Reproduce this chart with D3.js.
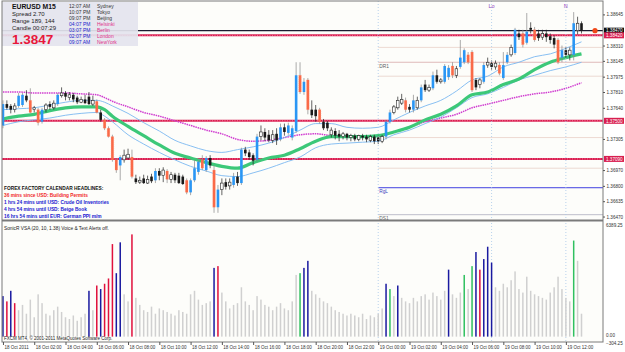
<!DOCTYPE html>
<html>
<head>
<meta charset="utf-8">
<script src="https://cdn.jsdelivr.net/npm/d3@7"></script>
<style>
body { margin: 0; background: #ffffff; }
text { font-family: "Liberation Sans", Arial, sans-serif; }
</style>
</head>
<body>
<div id="chart"></div>
<script>
// EURUSD M15 candles, one row per bar: [open, high, low, close]
const candles = [
  [1.3745,1.3772,1.3742,1.3768],[1.3768,1.3772,1.3762,1.3764],[1.3766,1.3768,1.3758,1.3762],[1.3762,1.3769,1.3759,1.3766],
  [1.3766,1.3780,1.3764,1.3777],[1.3767,1.3780,1.3765,1.3778],[1.3777,1.3783,1.3770,1.3772],[1.3772,1.3785,1.3758,1.3759],
  [1.3762,1.3766,1.3759,1.3764],[1.3762,1.3764,1.3745,1.3748],[1.3749,1.3764,1.3747,1.3762],[1.3762,1.3769,1.3759,1.3767],
  [1.3768,1.3771,1.3762,1.3765],[1.3764,1.3772,1.3762,1.3769],[1.3768,1.3780,1.3766,1.3778],[1.3777,1.3786,1.3775,1.3780],
  [1.3780,1.3782,1.3772,1.3776],[1.3775,1.3781,1.3772,1.3778],[1.3778,1.3780,1.3770,1.3773],[1.3775,1.3777,1.3768,1.3770],
  [1.3770,1.3776,1.3769,1.3773],[1.3773,1.3778,1.3768,1.3769],[1.3776,1.3781,1.3767,1.3768],[1.3768,1.3777,1.3766,1.3772],
  [1.3771,1.3773,1.3758,1.3759],[1.3759,1.3762,1.3749,1.3751],[1.3751,1.3753,1.3740,1.3742],[1.3742,1.3744,1.3732,1.3733],
  [1.3733,1.3735,1.3706,1.3708],[1.3708,1.3710,1.3694,1.3697],[1.3702,1.3713,1.3686,1.3711],[1.3708,1.3719,1.3705,1.3713],
  [1.3710,1.3720,1.3708,1.3714],[1.3711,1.3719,1.3688,1.3690],[1.3688,1.3692,1.3682,1.3684],[1.3684,1.3690,1.3682,1.3686],
  [1.3688,1.3692,1.3682,1.3683],[1.3683,1.3691,1.3682,1.3687],[1.3690,1.3693,1.3683,1.3685],[1.3686,1.3699,1.3683,1.3696],
  [1.3696,1.3699,1.3686,1.3691],[1.3691,1.3700,1.3684,1.3697],[1.3696,1.3698,1.3683,1.3687],[1.3687,1.3695,1.3683,1.3692],
  [1.3692,1.3694,1.3683,1.3686],[1.3691,1.3694,1.3682,1.3683],[1.3690,1.3692,1.3681,1.3682],[1.3686,1.3688,1.3671,1.3673],
  [1.3673,1.3688,1.3670,1.3686],[1.3686,1.3708,1.3684,1.3699],[1.3695,1.3710,1.3692,1.3706],[1.3708,1.3713,1.3697,1.3699],
  [1.3697,1.3712,1.3695,1.3710],[1.3710,1.3713,1.3699,1.3702],[1.3697,1.3702,1.3651,1.3657],[1.3657,1.3681,1.3651,1.3676],
  [1.3676,1.3688,1.3670,1.3683],[1.3684,1.3688,1.3676,1.3679],[1.3680,1.3688,1.3676,1.3684],[1.3681,1.3694,1.3678,1.3690],
  [1.3690,1.3695,1.3680,1.3683],[1.3683,1.3721,1.3681,1.3719],[1.3719,1.3722,1.3712,1.3715],[1.3716,1.3719,1.3708,1.3711],
  [1.3713,1.3715,1.3702,1.3707],[1.3708,1.3736,1.3706,1.3733],[1.3733,1.3745,1.3729,1.3738],[1.3738,1.3742,1.3728,1.3732],
  [1.3735,1.3740,1.3727,1.3729],[1.3729,1.3740,1.3726,1.3735],[1.3736,1.3742,1.3724,1.3729],[1.3730,1.3747,1.3728,1.3743],
  [1.3743,1.3747,1.3734,1.3738],[1.3737,1.3748,1.3735,1.3745],[1.3732,1.3745,1.3729,1.3742],[1.3739,1.3813,1.3737,1.3799],
  [1.3799,1.3813,1.3779,1.3781],[1.3781,1.3796,1.3778,1.3792],[1.3794,1.3796,1.3757,1.3762],[1.3762,1.3772,1.3753,1.3756],
  [1.3762,1.3767,1.3749,1.3755],[1.3762,1.3764,1.3747,1.3749],[1.3749,1.3752,1.3740,1.3742],[1.3748,1.3750,1.3739,1.3742],
  [1.3735,1.3743,1.3732,1.3740],[1.3739,1.3742,1.3730,1.3734],[1.3736,1.3740,1.3728,1.3733],[1.3733,1.3738,1.3730,1.3736],
  [1.3736,1.3737,1.3729,1.3732],[1.3732,1.3736,1.3728,1.3734],[1.3734,1.3736,1.3728,1.3730],[1.3730,1.3735,1.3728,1.3734],
  [1.3734,1.3736,1.3729,1.3732],[1.3733,1.3735,1.3727,1.3730],[1.3729,1.3735,1.3727,1.3733],[1.3733,1.3735,1.3725,1.3728],
  [1.3732,1.3734,1.3725,1.3728],[1.3728,1.3735,1.3726,1.3733],[1.3733,1.3751,1.3730,1.3749],[1.3749,1.3762,1.3747,1.3759],
  [1.3759,1.3767,1.3757,1.3765],[1.3764,1.3776,1.3762,1.3772],[1.3769,1.3779,1.3767,1.3773],[1.3772,1.3775,1.3759,1.3762],
  [1.3765,1.3768,1.3759,1.3762],[1.3762,1.3778,1.3759,1.3772],[1.3764,1.3776,1.3762,1.3772],[1.3772,1.3789,1.3770,1.3786],
  [1.3789,1.3794,1.3781,1.3783],[1.3783,1.3789,1.3781,1.3786],[1.3785,1.3803,1.3783,1.3799],[1.3799,1.3805,1.3790,1.3792],
  [1.3792,1.3796,1.3790,1.3794],[1.3792,1.3811,1.3790,1.3809],[1.3797,1.3810,1.3794,1.3807],[1.3809,1.3813,1.3796,1.3799],
  [1.3799,1.3809,1.3796,1.3806],[1.3808,1.3837,1.3806,1.3818],[1.3813,1.3828,1.3811,1.3826],[1.3821,1.3824,1.3811,1.3813],
  [1.3824,1.3826,1.3781,1.3783],[1.3794,1.3796,1.3783,1.3786],[1.3789,1.3796,1.3785,1.3794],[1.3792,1.3813,1.3790,1.3810],
  [1.3810,1.3818,1.3807,1.3813],[1.3812,1.3815,1.3805,1.3808],[1.3808,1.3815,1.3805,1.3812],[1.3810,1.3813,1.3799,1.3801],
  [1.3796,1.3824,1.3794,1.3810],[1.3813,1.3824,1.3811,1.3821],[1.3821,1.3832,1.3819,1.3829],[1.3823,1.3850,1.3821,1.3848],
  [1.3844,1.3848,1.3837,1.3840],[1.3844,1.3848,1.3829,1.3832],[1.3834,1.3866,1.3832,1.3846],[1.3850,1.3856,1.3844,1.3848],
  [1.3848,1.3851,1.3835,1.3837],[1.3844,1.3848,1.3836,1.3839],[1.3840,1.3848,1.3837,1.3844],[1.3844,1.3848,1.3835,1.3840],
  [1.3841,1.3844,1.3833,1.3837],[1.3839,1.3842,1.3828,1.3832],[1.3837,1.3839,1.3811,1.3813],[1.3818,1.3831,1.3813,1.3826],
  [1.3826,1.3829,1.3818,1.3821],[1.3821,1.3829,1.3815,1.3826],[1.3821,1.3867,1.3815,1.3855],[1.3847,1.3862,1.3843,1.3855],
  [1.3855,1.3857,1.3844,1.3847]
];

// moving averages read at these bars
const maBars = [0,4,8,12,16,20,24,26,28,32,36,40,44,48,52,56,60,64,68,72,76,80,84,88,92,96,100,104,108,112,116,120,124,128,132,136,140,144,148];
const dragonMid = [1.3752,1.3755,1.3757,1.3761,1.3764,1.3765,1.3765,1.3762,1.3755,1.3744,1.3734,1.3724,1.3715,1.3710,1.3705,1.3701,1.3699,1.3705,1.3710,1.3713,1.3720,1.3728,1.3733,1.3733,1.3733,1.3734,1.3738,1.3743,1.3751,1.3757,1.3766,1.3778,1.3781,1.3789,1.3795,1.3805,1.3813,1.3818,1.3822];
const dragonHigh = [1.3762,1.3763,1.3764,1.3767,1.3770,1.3772,1.3772,1.3770,1.3766,1.3758,1.3748,1.3739,1.3729,1.3723,1.3718,1.3716,1.3719,1.3722,1.3726,1.3732,1.3740,1.3747,1.3747,1.3743,1.3742,1.3743,1.3751,1.3759,1.3766,1.3772,1.3782,1.3794,1.3798,1.3808,1.3813,1.3819,1.3822,1.3828,1.3835];
const dragonLow = [1.3745,1.3749,1.3751,1.3753,1.3756,1.3758,1.3759,1.3755,1.3749,1.3735,1.3725,1.3716,1.3708,1.3701,1.3696,1.3691,1.3690,1.3694,1.3699,1.3705,1.3711,1.3721,1.3725,1.3726,1.3727,1.3728,1.3735,1.3740,1.3747,1.3754,1.3764,1.3775,1.3779,1.3786,1.3794,1.3799,1.3804,1.3808,1.3813];
const ema89 = [1.3781,1.3781,1.3780,1.3780,1.3780,1.3779,1.3778,1.3775,1.3771,1.3765,1.3759,1.3755,1.3750,1.3745,1.3740,1.3736,1.3730,1.3728,1.3729,1.3732,1.3735,1.3736,1.3734,1.3733,1.3733,1.3734,1.3738,1.3743,1.3749,1.3753,1.3757,1.3764,1.3768,1.3772,1.3776,1.3779,1.3781,1.3785,1.3791];

// VSA volume per bar
const volumes = [
  2300,2000,2600,1900,1500,1800,1300,2100,1100,2400,
  1900,1300,1200,1500,1700,1400,1100,1000,1200,900,
  1100,1300,2600,1500,2900,2700,3000,3300,5250,3600,
  5350,2400,2000,5800,2200,1800,1500,1400,1700,1300,
  1600,1500,1400,1300,1200,1500,1400,1300,2400,2600,
  2100,1800,1900,2000,3900,4000,2500,2000,1600,1800,
  1900,2800,2000,1800,1500,2300,2100,1800,1700,1500,
  1700,1900,1600,1500,2000,3500,3600,3900,4300,2600,
  2400,2200,2000,1900,1700,1500,1400,1300,1200,1300,
  1200,1100,1300,1000,1200,1100,1300,1600,3000,2700,
  2300,2900,2200,2000,1900,2200,2000,2300,2400,2100,
  2500,2300,2100,2600,3800,2400,2200,2500,3500,2700,
  4000,4800,3800,4400,5100,4200,2800,2600,3000,2800,
  3200,3700,2700,2500,3400,2600,2400,2300,2200,2100,
  2500,2800,3400,2700,2200,2000,5450,4300,1300
];
const volBlue = [0,2,22,25,29,30,54,77,78,98,101,114,121,123,124,125];
const volRed = [1,3,24,26,27,28,33,55,122];
const volGreen = [76,99,118,120,146];

const priceTicks = [1.38645,1.38480,1.38310,1.38145,1.37975,1.37810,1.37640,1.37470,1.37305,1.37135,1.36970,1.36800,1.36635,1.36470];
const timeLabels = ["18 Oct 2011","18 Oct 02:00","18 Oct 04:00","18 Oct 06:00","18 Oct 08:00","18 Oct 10:00","18 Oct 12:00","18 Oct 14:00","18 Oct 16:00","18 Oct 18:00","18 Oct 20:00","18 Oct 22:00","19 Oct 00:00","19 Oct 02:00","19 Oct 04:00","19 Oct 06:00","19 Oct 08:00","19 Oct 10:00","19 Oct 12:00"];
const timeBars = d3.range(0, 145, 8);

const currentPrice = 1.3847;
const redLevels = [1.3842, 1.3750, 1.3709];
const pivotNames = ["", "DR1", "", "", "", "RgL", "DS1"];
const pivotPrices = [1.3829, 1.3813, 1.3798, 1.3732, 1.3699, 1.3678, 1.3649];
const daySeparator = 96;
const sessionBars = [125, 144];
const sessionNames = ["Lo", "N"];

const clockTimes = ["12:07 AM","10:07 PM","09:07 PM","04:07 PM","03:07 PM","02:07 PM","09:07 AM"];
const clockCities = ["Sydney","Tokyo","Beijing","Helsinki","Berlin","London","NewYork"];
const infoLines = ["Spread  2.70", "Range  189, 144", "Candle  00:07:29"];
const headlines = ["36 mins since USD: Building Permits","1 hrs 24 mins until USD: Crude Oil Inventories","4 hrs 54 mins until USD: Beige Book","16 hrs 54 mins until EUR: German PPI m/m"];

const W = 625, H = 352;
const svg = d3.select('#chart').append('svg').attr('width', W).attr('height', H);

const x = d3.scaleLinear().domain([-0.5, 153.5]).range([1, 603]);
const y = d3.scaleLinear().domain([1.36465, 1.3880]).range([217, 0]);
const yv = d3.scaleLinear().domain([-304.25, 6389.25]).range([342, 224]);

// panels
svg.append('rect').attr('x', 2).attr('y', 1).attr('width', 601).attr('height', 219).attr('fill', '#fdfdfa');
svg.append('rect').attr('x', 2).attr('y', 222).attr('width', 601).attr('height', 120).attr('fill', '#fdfdfa');
svg.append('clipPath').attr('id', 'mainClip').append('rect').attr('x', 2).attr('y', 1).attr('width', 601).attr('height', 219);
const main = svg.append('g').attr('clip-path', 'url(#mainClip)');

// vertical separators
[daySeparator].concat(sessionBars).forEach(b => {
  svg.append('line').attr('x1', x(b)).attr('x2', x(b)).attr('y1', 1).attr('y2', 342)
    .attr('stroke', '#a8c8e8').attr('stroke-width', 0.8).attr('stroke-dasharray', '1,2');
});
sessionBars.forEach((b, i) => {
  svg.append('text').attr('x', x(b)).attr('y', 8).attr('text-anchor', 'middle')
    .attr('font-size', 5.5).attr('fill', '#9040c0').text(sessionNames[i]);
});

// pivot levels (start at the day separator)
const pivotColor = n => n === 'RgL' ? '#4040e0' : n === 'DS1' ? '#b0b0c0' : n === 'DR1' ? '#d8a8a8' : '#e8d0c8';
pivotPrices.forEach((p, i) => {
  main.append('line').attr('x1', x(daySeparator)).attr('x2', 603).attr('y1', y(p)).attr('y2', y(p))
    .attr('stroke', pivotColor(pivotNames[i])).attr('stroke-width', pivotNames[i] === 'RgL' ? 1 : 0.8);
  if (pivotNames[i]) {
    main.append('text').attr('x', x(daySeparator) + 1).attr('y', y(p) + 5.5).attr('font-size', 4.8)
      .attr('fill', pivotNames[i] === 'RgL' ? '#4040c0' : '#606060').text(pivotNames[i]);
  }
});

// red levels
redLevels.forEach(p => {
  main.append('line').attr('x1', 2).attr('x2', 603).attr('y1', y(p)).attr('y2', y(p))
    .attr('stroke', '#d81e50').attr('stroke-width', 2);
  main.append('line').attr('x1', 2).attr('x2', 603).attr('y1', y(p)).attr('y2', y(p))
    .attr('stroke', '#ff90b0').attr('stroke-width', 0.8).attr('stroke-dasharray', '1,1.5');
});
main.append('line').attr('x1', 2).attr('x2', 603).attr('y1', y(currentPrice)).attr('y2', y(currentPrice))
  .attr('stroke', '#1c1c30').attr('stroke-width', 1.3);

// moving averages
const maLine = vals => d3.line().x((d, i) => x(maBars[i])).y(d => y(d)).curve(d3.curveMonotoneX)(vals);
main.append('path').attr('d', maLine(ema89)).attr('fill', 'none').attr('stroke', '#d03cd0').attr('stroke-width', 1.5).attr('stroke-dasharray', '1.5,0.8');
main.append('path').attr('d', maLine(dragonHigh)).attr('fill', 'none').attr('stroke', '#7ab8f0').attr('stroke-width', 0.9);
main.append('path').attr('d', maLine(dragonLow)).attr('fill', 'none').attr('stroke', '#7ab8f0').attr('stroke-width', 0.9);
main.append('path').attr('d', maLine(dragonMid)).attr('fill', 'none').attr('stroke', '#3cc878').attr('stroke-width', 3.2);

// candles
const bw = 2.6;
const kind = d => {
  const body = Math.abs(d[3] - d[0]);
  if (d[3] >= d[0]) return body >= 0.0008 ? 'bull' : 'up';
  return body >= 0.0008 ? 'bear' : 'down';
};
const g = main.append('g');
candles.forEach((d, i) => {
  const k = kind(d);
  g.append('line').attr('x1', x(i)).attr('x2', x(i)).attr('y1', y(d[1])).attr('y2', y(d[2]))
    .attr('stroke', k === 'bull' || k === 'bear' ? '#888' : '#222').attr('stroke-width', 0.7);
  const top = y(Math.max(d[0], d[3])), bot = y(Math.min(d[0], d[3]));
  const r = g.append('rect').attr('x', x(i) - bw / 2).attr('y', top).attr('width', bw).attr('height', Math.max(bot - top, 0.8));
  if (k === 'bull') r.attr('fill', '#2a96f4');
  else if (k === 'bear') r.attr('fill', '#fa6a48').attr('stroke', '#ff9070').attr('stroke-width', 0.3).attr('stroke-dasharray', '1,1');
  else if (k === 'up') r.attr('fill', '#ffffff').attr('stroke', '#222').attr('stroke-width', 0.6);
  else r.attr('fill', '#1a1a1a');
});

// current price marker
svg.append('circle').attr('cx', 595).attr('cy', y(currentPrice)).attr('r', 2.6).attr('fill', '#f04818');

// info box
svg.append('rect').attr('x', 2).attr('y', 2).attr('width', 136).attr('height', 44).attr('fill', '#e4e4ee').attr('opacity', 0.92);
svg.append('text').attr('x', 12).attr('y', 8.5).attr('font-size', 6.8).attr('font-weight', 'bold').attr('fill', '#111').text('EURUSD   M15');
infoLines.forEach((t, i) => {
  svg.append('text').attr('x', 12).attr('y', 16 + i * 7).attr('font-size', 6).attr('fill', '#222').text(t);
});
clockTimes.forEach((t, i) => {
  svg.append('text').attr('x', 69).attr('y', 8 + i * 6).attr('font-size', 5).attr('fill', i < 3 ? '#333' : '#2222cc').text(t);
  svg.append('text').attr('x', 97).attr('y', 8 + i * 6).attr('font-size', 5).attr('fill', i < 3 ? '#333' : '#e0308a').text(clockCities[i]);
});
svg.append('text').attr('x', 12).attr('y', 44).attr('font-size', 13.5).attr('font-weight', 'bold').attr('fill', '#e8173a').text(d3.format('.4f')(currentPrice));

// headlines
svg.append('text').attr('x', 4).attr('y', 190).attr('font-size', 4.8).attr('font-weight', 'bold').attr('fill', '#111').text('FOREX FACTORY CALENDAR HEADLINES:');
headlines.forEach((t, i) => {
  svg.append('text').attr('x', 4).attr('y', 197 + i * 7).attr('font-size', 4.8).attr('font-weight', 'bold')
    .attr('fill', i === 0 ? '#f02828' : '#2020d0').text(t);
});

// volume panel
const vcolor = i => volBlue.includes(i) ? '#1a1aa0' : volRed.includes(i) ? '#e0103c' : volGreen.includes(i) ? '#30c060' : '#d0d0d0';
volumes.forEach((v, i) => {
  svg.append('rect').attr('x', x(i) - 0.75).attr('y', yv(v)).attr('width', 1.5).attr('height', yv(0) - yv(v)).attr('fill', vcolor(i));
});
svg.append('text').attr('x', 4).attr('y', 230).attr('font-size', 4.8).attr('fill', '#222').text('SonicR VSA  (20, 10, 1.38)    Voice & Text Alerts off.');
svg.append('text').attr('x', 4).attr('y', 340).attr('font-size', 4.5).attr('fill', '#222').text('FXCM MT4, \u00a9 2001-2011 MetaQuotes Software Corp.');

// frames
svg.append('rect').attr('x', 2).attr('y', 1).attr('width', 601).attr('height', 341).attr('fill', 'none').attr('stroke', '#7a7a7a').attr('stroke-width', 1);
svg.append('line').attr('x1', 2).attr('x2', 603).attr('y1', 220.5).attr('y2', 220.5).attr('stroke', '#7a7a7a').attr('stroke-width', 2);

// price axis: labels hidden under a level tag are left out
const tagPrices = [currentPrice].concat(redLevels);
const shownTicks = priceTicks.filter(p => tagPrices.every(t => Math.abs(y(p) - y(t)) > 5));
const ax = svg.append('g').attr('transform', 'translate(603,0)')
  .call(d3.axisRight(y).tickValues(shownTicks).tickFormat(d3.format('.5f')).tickSize(2));
ax.select('.domain').remove();
ax.selectAll('text').attr('font-size', 4.6).attr('fill', '#333').attr('x', 3.5);
ax.selectAll('line').attr('stroke', '#555');

// highlighted price labels
tagPrices.forEach((p, i) => {
  svg.append('rect').attr('x', 604).attr('y', y(p) - 3).attr('width', 20).attr('height', 6).attr('fill', i === 0 ? '#111' : '#d81e50');
  svg.append('text').attr('x', 606).attr('y', y(p) + 1.7).attr('font-size', 4.6).attr('fill', '#fff').text(d3.format('.5f')(p));
});

// volume axis labels
[6389.25, 0, -304.25].forEach((v, i) => {
  svg.append('text').attr('x', 606).attr('y', i === 0 ? 227 : yv(v) + (i === 1 ? 0 : 2.5)).attr('font-size', 4.6).attr('fill', '#333').text(d3.format('.2f')(v));
});

// time axis
const tx = svg.append('g').attr('transform', 'translate(0,342)')
  .call(d3.axisBottom(x).tickValues(timeBars).tickFormat((d, i) => timeLabels[i]).tickSize(3));
tx.select('.domain').remove();
tx.selectAll('text').attr('font-size', 4.5).attr('fill', '#333').attr('text-anchor', 'start').attr('dx', 1).attr('dy', 1);
tx.selectAll('line').attr('stroke', '#555');
</script>
</body>
</html>
